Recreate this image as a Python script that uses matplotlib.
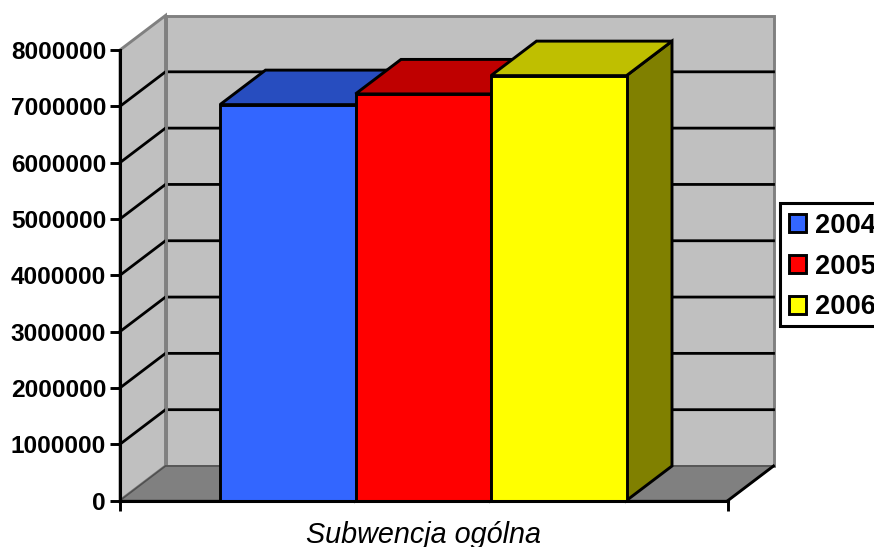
import numpy as np
import matplotlib
matplotlib.use('Agg')
import matplotlib.pyplot as plt
from matplotlib.patches import Polygon, Patch, Rectangle

# ── Data ───────────────────────────────────
category  = 'Subwencja ogólna'
years     = ['2004', '2005', '2006']
values    = [7030000, 7220000, 7545000]
y_ticks   = [0, 1000000, 2000000, 3000000, 4000000, 5000000, 6000000, 7000000, 8000000]

front_col = ['#3366FF', '#FF0000', '#FFFF00']
top_col   = ['#274DBF', '#BF0000', '#BFBF00']
side_col  = ['#1A3380', '#800000', '#808000']

# ── Layout (pixels of the 874x547 picture) ─
W, H = 874, 547
left, right, bottom, top = 120, 728, 500.5, 50

plt.rcParams['font.family'] = ['Liberation Sans', 'DejaVu Sans']

fig = plt.figure(figsize=(W / 100, H / 100), dpi=100)
ax = fig.add_axes([left / W, 1 - bottom / H, (right - left) / W, (bottom - top) / H])
ax.set_xlim(0, 1)
ax.set_ylim(0, 8000000)
ax.patch.set_visible(False)

# 3D offset of the back wall, in data units
dx = 45.5 / (right - left)
dy = 34.5 / (bottom - top) * 8000000
y_max = y_ticks[-1]


def poly(points, color, edge=None, lw=2.1, z=1):
    ax.add_patch(Polygon(points, closed=True, facecolor=color,
                         edgecolor=edge if edge else color, linewidth=lw,
                         joinstyle='miter', clip_on=False, zorder=z))


# ── Walls and floor ────────────────────────
poly([(0, 0), (dx, dy), (dx, y_max + dy), (0, y_max)], '#C0C0C0', '#808080', 2.1)
poly([(dx, dy), (1 + dx, dy), (1 + dx, y_max + dy), (dx, y_max + dy)], '#C0C0C0', '#808080', 2.1)

for t in y_ticks[1:-1]:
    ax.plot([0, dx, 1 + dx], [t, t + dy, t + dy], color='black', lw=2.0,
            solid_joinstyle='miter', clip_on=False, zorder=2)
# the grey corner of the two walls runs over the lines
ax.plot([dx, dx], [dy, y_max + dy], color='#808080', lw=2.1, clip_on=False, zorder=2.5)

poly([(0, 0), (1, 0), (1 + dx, dy), (dx, dy)], '#808080', '#505050', 1.2, z=3)
ax.plot([1, 1 + dx], [0, dy], color='black', lw=2.1, clip_on=False, zorder=3)

# ── Bars ───────────────────────────────────
bar_w = 135.5 / (right - left)
bar_x = (220 - left) / (right - left)

for i, (val, fc, tc, sc) in enumerate(zip(values, front_col, top_col, side_col)):
    x0 = bar_x + i * bar_w
    x1 = x0 + bar_w
    z = 4 + i
    poly([(x1, 0), (x1 + dx, dy), (x1 + dx, val + dy), (x1, val)], sc, 'black', z=z)
    poly([(x0, val), (x1, val), (x1 + dx, val + dy), (x0 + dx, val + dy)], tc, 'black', z=z)
    poly([(x0, 0), (x1, 0), (x1, val), (x0, val)], fc, 'black', z=z)

# ── Axes ───────────────────────────────────
for s in ['top', 'right']:
    ax.spines[s].set_visible(False)
for s in ['left', 'bottom']:
    ax.spines[s].set_linewidth(2.2)
    ax.spines[s].set_zorder(10)

ax.set_yticks(y_ticks)
ax.set_yticklabels([str(t) for t in y_ticks], fontsize=17.6, fontweight='bold')
ax.tick_params(axis='y', length=7, width=2.1, pad=3)

ax.set_xticks([0.5])
ax.set_xticklabels([category], fontsize=20.7, fontstyle='italic')
ax.tick_params(axis='x', which='major', length=0, pad=14.5)
ax.set_xticks([0, 1], minor=True)
ax.tick_params(axis='x', which='minor', length=7, width=2.1)

# ── Legend ─────────────────────────────────
# box drawn apart: it runs off the right edge, as in the original
fig.add_artist(Rectangle((780 / W, 1 - 325.5 / H), 110 / W, 123 / H,
                         transform=fig.transFigure, facecolor='white',
                         edgecolor='black', linewidth=2.2))
handles = [Patch(facecolor=c, edgecolor='black', linewidth=2.1) for c in front_col]
leg = fig.legend(handles, years, loc='upper left',
                 bbox_to_anchor=(780 / W, 1 - 204 / H), borderaxespad=0,
                 prop={'size': 19.6, 'weight': 'bold'}, frameon=False,
                 handlelength=0.64, handleheight=0.64, handletextpad=0.3,
                 labelspacing=0.54, borderpad=0.33)

fig.savefig('out.png', dpi=100)
